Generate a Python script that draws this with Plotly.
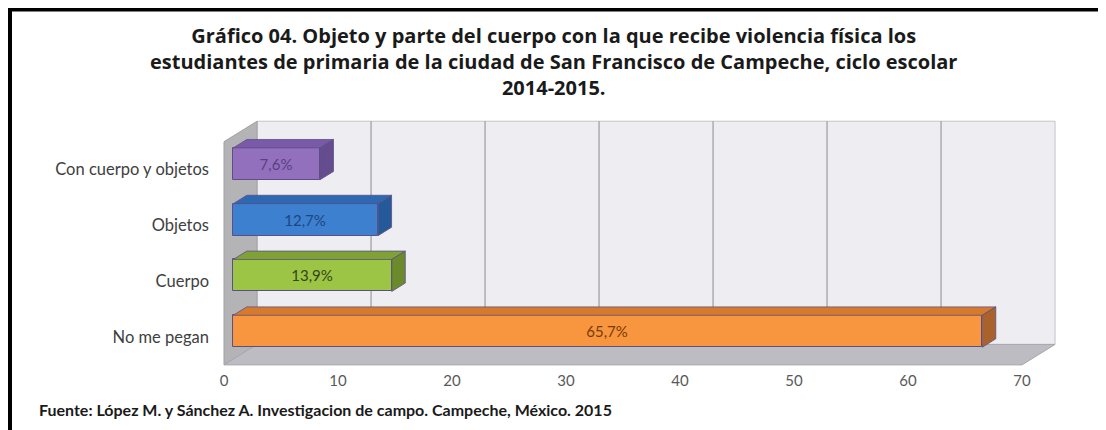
import plotly.graph_objects as go

# ---------------- data ----------------
categories = ["No me pegan", "Cuerpo", "Objetos", "Con cuerpo y objetos"]
values = [65.7, 13.9, 12.7, 7.6]
x_ticks = [0, 10, 20, 30, 40, 50, 60, 70]

front_colors = ["#F7963F", "#9CC445", "#3C80CF", "#9270BE"]
top_colors = ["#D67A2C", "#7FA236", "#2C69B2", "#7A5AA8"]
side_colors = ["#A9622A", "#6A8A2C", "#255A9A", "#654C8F"]
label_colors = ["#7A3A05", "#34451A", "#1E4682", "#5A3F82"]

title_lines = ["Gráfico 04. Objeto y parte del cuerpo con la que recibe violencia física los",
               "estudiantes de primaria de la ciudad de San Francisco de Campeche, ciclo escolar",
               "2014-2015."]
source_text = "Fuente: López M. y Sánchez A. Investigacion de campo. Campeche, México. 2015"

# ---------------- geometry (pseudo 3-D), figure pixel coords ----------------
W, H = 1098, 422     # page adds an 8px body margin
PX_X = 11.4          # pixels per unit on x
X0_PX = 216          # pixel of value 0 at front plane
PX_Y = 55.8          # pixels per category step
Y0_PX = 329          # pixel of first category at front plane
L, R, T, B = 206, 41, 107, 60

x_lo = -(X0_PX - L) / PX_X
x_hi = ((W - R) - X0_PX) / PX_X
y_hi = (Y0_PX - T) / PX_Y
y_lo = (Y0_PX - (H - B)) / PX_Y

xmax = x_ticks[-1]
DX, DY = 2.9, 0.367          # depth vector (front plane -> back wall)
Y_BOT, Y_TOP = -0.5, len(categories) - 0.5
BAR_F, BAR_D = 0.28, 0.41    # bar front position / bar depth (fraction of depth)
BAR_W = 0.573


def px_to_paper_x(px):
    return (px - L) / (W - L - R)


def px_to_paper_y(py):
    return ((H - B) - py) / (H - T - B)


shapes = []
# back wall
shapes.append(dict(type="rect", layer="below", xref="x", yref="y",
                   x0=DX, x1=xmax + DX, y0=Y_BOT + DY, y1=Y_TOP + DY,
                   fillcolor="#EEEEF2", line=dict(color="#C4C4C8", width=1)))
# gridlines on back wall
for t in x_ticks[1:-1]:
    shapes.append(dict(type="line", layer="below", xref="x", yref="y",
                       x0=t + DX, x1=t + DX, y0=Y_BOT + DY, y1=Y_TOP + DY,
                       line=dict(color="#8C8C8C", width=1)))
# left wall
shapes.append(dict(type="path", layer="below", xref="x", yref="y",
                   path=f"M 0,{Y_BOT} L 0,{Y_TOP} L {DX},{Y_TOP + DY} L {DX},{Y_BOT + DY} Z",
                   fillcolor="#B4B4B6", line=dict(color="#A0A0A4", width=1)))
# floor
shapes.append(dict(type="path", layer="below", xref="x", yref="y",
                   path=f"M 0,{Y_BOT} L {xmax},{Y_BOT} L {xmax + DX},{Y_BOT + DY} L {DX},{Y_BOT + DY} Z",
                   fillcolor="#BCBCC2", line=dict(color="#A8A8AE", width=1)))

# outer black frame (top & left)
shapes.append(dict(type="line", xref="paper", yref="paper",
                   x0=px_to_paper_x(0), x1=px_to_paper_x(W + 5),
                   y0=px_to_paper_y(1.5), y1=px_to_paper_y(1.5),
                   line=dict(color="black", width=4)))
shapes.append(dict(type="line", xref="paper", yref="paper",
                   x0=px_to_paper_x(2), x1=px_to_paper_x(2),
                   y0=px_to_paper_y(0), y1=px_to_paper_y(H + 5),
                   line=dict(color="black", width=4)))

fig = go.Figure()

fx, fy = BAR_F * DX, BAR_F * DY
bx, by = BAR_D * DX, BAR_D * DY

# front faces (library bars)
texts = [f"{v:.1f}%".replace(".", ",") for v in values]
fig.add_trace(go.Bar(
    orientation="h",
    y=[i + fy for i in range(len(categories))],
    x=values,
    base=[fx] * len(values),
    width=BAR_W,
    marker=dict(color=front_colors, line=dict(color="#5E4E86", width=1)),
    text=texts,
    textposition="inside",
    insidetextanchor="middle",
    textangle=0,
    textfont=dict(family="Lato", size=15, color=label_colors),
    hoverinfo="skip",
    showlegend=False,
))

# top and side faces
for i, v in enumerate(values):
    yb = i + fy - BAR_W / 2
    yt = i + fy + BAR_W / 2
    xl = fx
    xr = fx + v
    top_x = [xl, xr, xr + bx, xl + bx, xl]
    top_y = [yt, yt, yt + by, yt + by, yt]
    fig.add_trace(go.Scatter(x=top_x, y=top_y, fill="toself", mode="lines",
                             fillcolor=top_colors[i],
                             line=dict(color="#5E4E86", width=0.8),
                             hoverinfo="skip", showlegend=False))
    side_x = [xr, xr + bx, xr + bx, xr, xr]
    side_y = [yb, yb + by, yt + by, yt, yb]
    fig.add_trace(go.Scatter(x=side_x, y=side_y, fill="toself", mode="lines",
                             fillcolor=side_colors[i],
                             line=dict(color="#5E4E86", width=0.8),
                             hoverinfo="skip", showlegend=False))

annotations = [
    dict(text="<br>".join(title_lines), xref="paper", yref="paper",
         x=px_to_paper_x(545), y=px_to_paper_y(53),
         xanchor="center", yanchor="middle", align="center", showarrow=False,
         font=dict(family="Open Sans", size=20, color="#1A1A1A", weight="bold")),
    dict(text=source_text, xref="paper", yref="paper",
         x=px_to_paper_x(29), y=px_to_paper_y(402),
         xanchor="left", yanchor="middle", showarrow=False,
         font=dict(family="Lato", size=16, color="#1A1A1A", weight="bold")),
]

fig.update_layout(
    width=W, height=H,
    margin=dict(l=L, r=R, t=T, b=B, pad=0),
    paper_bgcolor="white",
    plot_bgcolor="rgba(0,0,0,0)",
    xaxis=dict(range=[x_lo, x_hi], tickvals=x_ticks, ticktext=[str(t) for t in x_ticks],
               showgrid=False, zeroline=False, showline=False, ticks="",
               tickfont=dict(family="Lato", size=15, color="#595959")),
    yaxis=dict(range=[y_lo, y_hi], tickvals=list(range(len(categories))), ticktext=categories,
               showgrid=False, zeroline=False, showline=False, ticks="",
               ticklabelstandoff=4,
               tickfont=dict(family="Lato", size=16.5, color="#404040")),
    shapes=shapes,
    annotations=annotations,
    bargap=0,
)

fig.write_html("out.html")
